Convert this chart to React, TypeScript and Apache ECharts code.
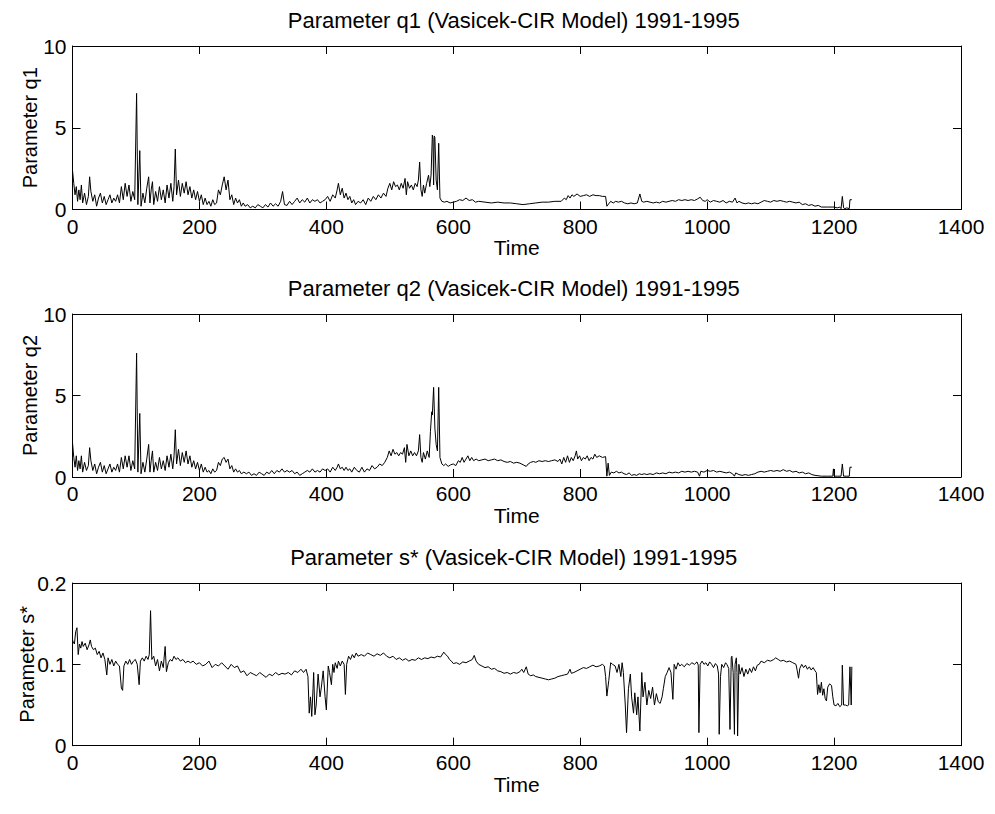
import React, { useEffect, useRef } from "react";
import * as echarts from "echarts";

const titles = [
  "Parameter q1 (Vasicek-CIR Model) 1991-1995",
  "Parameter q2 (Vasicek-CIR Model) 1991-1995",
  "Parameter s* (Vasicek-CIR Model) 1991-1995",
];
const yNames = ["Parameter q1", "Parameter q2", "Parameter s*"];
const xName = "Time";
const xRange = { min: 0, max: 1400, interval: 200 };
const yRanges = [
  { min: 0, max: 10, interval: 5 },
  { min: 0, max: 10, interval: 5 },
  { min: 0, max: 0.2, interval: 0.1 },
];

const q1Data: [number, number][] = [
  [0,2.4],[2,1.6],[4,0.9],[6,1.4],[8,0.5],[10,1.2],[12,0.6],[14,1.5],[16,0.4],[19,1.0],[22,0.3],[25,0.8],[27,2.0],[29,1.1],[32,0.5],[35,0.9],[38,0.2],[41,0.7],[44,1.0],[47,0.4],
  [50,0.8],[53,0.3],[56,0.6],[59,0.9],[62,0.4],[65,0.7],[68,0.5],[71,0.9],[74,0.4],[77,1.4],[80,0.6],[83,1.6],[86,0.8],[89,1.5],[92,0.5],[95,1.1],[98,0.6],[101,7.1],[103,0.3],[106,3.6],
  [108,0.2],[111,1.0],[114,0.4],[117,1.3],[120,2.0],[122,0.4],[124,1.2],[126,1.7],[128,0.3],[131,1.1],[134,0.5],[137,1.4],[140,0.6],[143,1.2],[146,0.4],[149,1.5],[152,0.7],[155,1.6],[158,0.5],[160,1.4],
  [162,3.7],[164,0.9],[167,1.8],[170,0.8],[173,1.6],[176,1.0],[179,1.7],[182,0.9],[185,1.4],[188,0.7],[191,1.2],[194,0.6],[197,1.1],[200,0.5],[203,0.9],[206,0.3],[209,0.7],[212,0.3],[215,0.5],[218,0.2],
  [221,0.6],[224,0.3],[227,0.4],[230,1.2],[233,0.9],[236,1.5],[239,2.0],[242,1.2],[245,1.8],[248,0.6],[251,0.9],[254,0.3],[257,0.7],[260,0.4],[263,0.6],[266,0.2],[269,0.4],[272,0.2],[276,0.3],[280,0.1],
  [284,0.2],[288,0.1],[292,0.3],[296,0.2],[300,0.1],[304,0.3],[308,0.15],[312,0.4],[316,0.2],[320,0.35],[324,0.2],[328,0.5],[331,1.1],[334,0.3],[338,0.25],[342,0.5],[346,0.3],[350,0.5],[354,0.7],[358,0.4],
  [362,0.6],[366,0.45],[370,0.7],[374,0.4],[378,0.6],[382,0.5],[386,0.6],[390,0.4],[394,0.5],[398,0.6],[402,0.8],[406,0.5],[410,0.9],[414,0.7],[417,1.2],[419,1.6],[422,0.9],[425,1.3],[428,0.7],[431,1.0],
  [434,0.6],[437,0.8],[440,0.4],[443,0.6],[446,0.3],[450,0.5],[454,0.4],[458,0.6],[462,0.3],[466,0.7],[470,0.5],[474,0.8],[478,0.6],[482,0.9],[486,0.7],[490,1.0],[494,0.8],[497,1.3],[500,1.6],[503,1.2],
  [506,1.7],[509,1.4],[512,1.5],[515,1.2],[518,1.6],[521,1.3],[524,1.9],[526,0.9],[528,1.7],[531,1.3],[534,1.5],[537,1.2],[540,1.6],[543,1.4],[545,1.8],[547,2.9],[549,1.2],[551,0.8],[553,1.5],[555,1.0],
  [558,1.6],[561,2.1],[563,1.4],[565,2.1],[567,4.55],[568,4.3],[569,1.5],[570,4.5],[571,4.4],[573,1.8],[575,1.2],[577,4.05],[579,0.7],[582,0.5],[586,0.45],[590,0.5],[595,0.4],[600,0.45],[605,0.5],[610,0.6],
  [615,0.55],[620,0.7],[625,0.55],[630,0.6],[635,0.45],[640,0.5],[650,0.45],[660,0.4],[670,0.45],[680,0.4],[690,0.4],[700,0.35],[710,0.3],[720,0.35],[730,0.4],[740,0.45],[750,0.45],[760,0.5],[770,0.5],[775,0.7],
  [778,0.6],[781,0.85],[784,0.7],[787,0.9],[790,0.8],[795,0.95],[800,0.8],[805,0.85],[810,0.9],[815,0.8],[820,0.9],[825,0.85],[830,0.85],[835,0.8],[840,0.8],[842,0.2],[845,0.35],[848,0.5],[852,0.4],[856,0.5],
  [860,0.45],[865,0.5],[870,0.4],[875,0.35],[880,0.4],[885,0.35],[890,0.4],[894,0.95],[897,0.5],[900,0.45],[905,0.5],[910,0.45],[915,0.4],[920,0.45],[925,0.4],[930,0.5],[935,0.45],[940,0.5],[945,0.55],[950,0.5],
  [955,0.6],[960,0.55],[965,0.6],[970,0.55],[975,0.6],[980,0.55],[985,0.65],[989,0.75],[993,0.55],[997,0.5],[1000,0.6],[1005,0.45],[1010,0.55],[1015,0.5],[1020,0.45],[1025,0.55],[1030,0.4],[1035,0.5],[1040,0.45],[1044,0.7],
  [1047,0.4],[1050,0.5],[1055,0.4],[1060,0.35],[1065,0.4],[1070,0.35],[1075,0.4],[1080,0.35],[1085,0.45],[1090,0.55],[1095,0.5],[1100,0.45],[1105,0.55],[1110,0.5],[1115,0.55],[1120,0.5],[1125,0.45],[1130,0.5],[1135,0.45],[1140,0.4],
  [1145,0.45],[1150,0.3],[1155,0.35],[1160,0.25],[1165,0.3],[1170,0.2],[1175,0.25],[1180,0.15],[1190,0.15],[1200,0.15],[1205,0.1],[1209,0.15],[1211,0.05],[1213,0.8],[1215,0.1],[1217,0.05],[1220,0.1],[1224,0.05],[1225,0.6],[1228,0.6],
];

const q2Data: [number, number][] = [
  [0,2.1],[2,1.2],[4,0.6],[6,1.3],[8,0.4],[10,1.0],[12,0.5],[14,1.3],[16,0.3],[19,0.9],[22,0.4],[25,0.7],[27,1.8],[29,1.0],[32,0.4],[35,0.8],[38,0.2],[41,0.6],[44,0.9],[47,0.3],
  [50,0.7],[53,0.2],[56,0.5],[59,0.8],[62,0.3],[65,0.6],[68,0.4],[71,0.8],[74,0.3],[77,1.2],[80,0.5],[83,1.3],[86,0.6],[89,1.3],[92,0.4],[95,1.0],[98,0.5],[101,7.6],[103,0.3],[106,3.9],
  [108,0.2],[111,0.9],[114,0.3],[117,1.1],[120,2.0],[122,0.3],[124,1.0],[126,1.6],[128,0.3],[131,0.9],[134,0.4],[137,1.2],[140,0.5],[143,1.0],[146,0.4],[149,1.3],[152,0.6],[155,1.4],[158,0.5],[160,1.3],
  [162,2.9],[164,0.8],[167,1.7],[170,0.7],[173,1.5],[176,0.9],[179,1.6],[182,0.8],[185,1.3],[188,0.6],[191,1.0],[194,0.5],[197,0.9],[200,0.4],[203,0.8],[206,0.3],[209,0.6],[212,0.3],[215,0.4],[218,0.2],
  [221,0.5],[224,0.3],[227,0.4],[230,0.9],[233,0.7],[236,1.1],[239,1.2],[242,0.9],[245,1.1],[248,0.5],[251,0.7],[254,0.3],[257,0.5],[260,0.3],[263,0.4],[266,0.2],[270,0.3],[274,0.2],[278,0.3],[282,0.1],
  [286,0.2],[290,0.1],[294,0.3],[298,0.2],[302,0.1],[306,0.3],[310,0.2],[314,0.4],[318,0.2],[322,0.4],[326,0.3],[330,0.5],[334,0.3],[338,0.4],[342,0.3],[346,0.4],[350,0.2],[354,0.3],[358,0.1],[362,0.2],
  [366,0.3],[370,0.4],[374,0.3],[378,0.5],[382,0.3],[386,0.4],[390,0.3],[394,0.5],[398,0.4],[402,0.5],[406,0.3],[410,0.6],[414,0.4],[417,0.6],[419,0.8],[422,0.5],[425,0.6],[428,0.4],[431,0.6],[434,0.4],
  [437,0.5],[440,0.3],[444,0.6],[448,0.4],[452,0.3],[456,0.6],[460,0.3],[464,0.5],[468,0.4],[472,0.7],[476,0.5],[480,0.6],[484,0.8],[488,0.7],[492,0.9],[496,1.2],[499,1.6],[502,1.3],[505,1.7],[508,1.4],
  [511,1.5],[514,1.3],[517,1.5],[520,1.4],[523,1.8],[525,0.9],[527,2.0],[530,1.3],[533,1.6],[536,1.3],[539,1.5],[542,1.3],[545,1.6],[547,2.6],[549,1.2],[551,0.9],[553,1.5],[556,1.1],[559,1.6],[562,1.2],
  [564,2.8],[566,4.0],[567,3.8],[569,5.5],[570,5.5],[571,3.0],[573,2.0],[575,1.6],[577,5.5],[578,5.5],[579,1.2],[582,0.8],[585,0.7],[588,0.8],[592,0.65],[596,0.75],[600,0.8],[604,0.7],[608,1.0],[611,0.9],
  [614,1.2],[617,0.9],[620,1.1],[623,1.3],[626,1.0],[629,1.2],[632,1.0],[636,1.1],[640,1.0],[645,1.05],[650,1.1],[655,1.0],[660,1.05],[665,1.1],[670,1.0],[675,1.05],[680,0.95],[685,0.9],[690,0.95],[695,0.85],
  [700,0.9],[705,0.85],[710,0.75],[715,0.65],[718,0.8],[722,0.9],[726,0.95],[730,0.9],[735,1.0],[740,0.95],[745,1.0],[750,0.95],[755,1.0],[760,1.05],[765,0.95],[768,1.1],[771,0.8],[774,1.2],[777,0.9],[780,1.3],
  [783,0.9],[786,1.2],[789,1.0],[792,1.3],[794,1.6],[796,1.1],[799,1.3],[802,1.0],[805,1.2],[808,1.1],[811,1.3],[814,1.0],[817,1.2],[820,1.1],[823,1.4],[826,1.2],[830,1.3],[835,1.2],[840,1.25],[842,0.05],
  [844,0.85],[846,0.1],[849,0.3],[853,0.25],[857,0.35],[861,0.25],[865,0.3],[869,0.2],[873,0.15],[877,0.25],[881,0.1],[885,0.15],[889,0.1],[893,0.2],[897,0.15],[901,0.2],[905,0.15],[910,0.2],[915,0.15],[920,0.25],
  [925,0.2],[930,0.25],[935,0.2],[940,0.3],[945,0.25],[950,0.3],[955,0.25],[960,0.35],[965,0.3],[970,0.35],[975,0.3],[980,0.35],[985,0.3],[988,0.05],[990,0.35],[995,0.3],[1000,0.4],[1005,0.35],[1010,0.4],[1015,0.3],
  [1020,0.35],[1025,0.3],[1030,0.25],[1035,0.3],[1040,0.2],[1043,0.05],[1045,0.25],[1050,0.15],[1055,0.1],[1060,0.15],[1065,0.1],[1070,0.15],[1075,0.2],[1080,0.3],[1085,0.35],[1090,0.3],[1095,0.35],[1100,0.4],[1105,0.35],[1110,0.4],
  [1115,0.35],[1120,0.45],[1125,0.35],[1130,0.4],[1135,0.3],[1140,0.35],[1145,0.25],[1150,0.3],[1155,0.2],[1160,0.25],[1165,0.15],[1170,0.1],[1180,0.05],[1190,0.05],[1198,0.05],[1199,0.5],[1200,0.05],[1205,0.05],[1211,0.05],[1213,0.8],
  [1215,0.05],[1220,0.05],[1224,0.05],[1225,0.6],[1228,0.6],
];

const sData: [number, number][] = [
  [0,0.13],[1,0.128],[3,0.125],[5,0.14],[7,0.145],[9,0.112],[11,0.125],[13,0.12],[15,0.128],[17,0.122],[20,0.126],[23,0.118],[26,0.124],[28,0.13],[30,0.122],[33,0.118],[36,0.12],[39,0.112],[42,0.116],[45,0.108],
  [48,0.114],[51,0.106],[54,0.087],[56,0.108],[59,0.1],[62,0.106],[65,0.098],[68,0.104],[71,0.1],[74,0.098],[77,0.071],[79,0.068],[81,0.098],[84,0.104],[87,0.1],[90,0.106],[93,0.1],[96,0.104],[99,0.106],[102,0.1],
  [105,0.075],[107,0.104],[110,0.108],[113,0.104],[116,0.11],[119,0.106],[121,0.112],[123,0.166],[125,0.106],[128,0.11],[131,0.098],[134,0.106],[137,0.092],[140,0.104],[143,0.096],[146,0.122],[148,0.091],[151,0.102],[154,0.106],[157,0.104],
  [160,0.11],[163,0.106],[166,0.108],[170,0.104],[174,0.106],[178,0.102],[182,0.104],[186,0.102],[190,0.104],[195,0.1],[200,0.102],[205,0.098],[210,0.1],[215,0.104],[220,0.096],[225,0.1],[230,0.098],[235,0.102],[240,0.098],[245,0.094],
  [250,0.1],[255,0.096],[260,0.098],[265,0.09],[270,0.092],[275,0.086],[280,0.09],[285,0.088],[290,0.086],[295,0.09],[300,0.087],[305,0.084],[310,0.088],[315,0.086],[320,0.09],[325,0.087],[330,0.089],[335,0.088],[340,0.09],[345,0.087],
  [350,0.092],[355,0.09],[360,0.094],[364,0.09],[368,0.094],[371,0.085],[373,0.04],[375,0.06],[377,0.036],[379,0.07],[380,0.09],[382,0.038],[384,0.05],[387,0.088],[390,0.06],[392,0.071],[395,0.092],[398,0.06],[400,0.044],[403,0.098],
  [405,0.09],[408,0.075],[410,0.1],[412,0.09],[414,0.102],[417,0.095],[419,0.104],[422,0.098],[425,0.104],[428,0.1],[430,0.063],[432,0.1],[435,0.11],[438,0.106],[441,0.112],[444,0.108],[447,0.114],[450,0.11],[455,0.112],[460,0.11],
  [465,0.114],[470,0.112],[475,0.11],[480,0.113],[485,0.111],[490,0.114],[495,0.11],[500,0.108],[505,0.11],[510,0.106],[515,0.108],[520,0.105],[525,0.107],[530,0.104],[535,0.106],[540,0.105],[545,0.108],[550,0.106],[555,0.108],[560,0.107],
  [565,0.109],[570,0.108],[575,0.11],[580,0.109],[585,0.115],[588,0.112],[591,0.11],[594,0.106],[597,0.104],[600,0.101],[605,0.102],[610,0.1],[615,0.103],[620,0.102],[625,0.104],[630,0.106],[633,0.111],[636,0.104],[640,0.1],[645,0.098],
  [650,0.096],[655,0.097],[660,0.094],[665,0.095],[670,0.092],[675,0.091],[680,0.089],[685,0.09],[690,0.088],[695,0.09],[700,0.089],[705,0.091],[708,0.094],[711,0.09],[715,0.097],[718,0.088],[722,0.086],[726,0.087],[730,0.085],[735,0.084],
  [740,0.083],[745,0.082],[750,0.081],[755,0.082],[760,0.083],[765,0.085],[770,0.086],[775,0.087],[780,0.088],[784,0.094],[786,0.089],[790,0.09],[795,0.092],[800,0.094],[805,0.096],[810,0.095],[815,0.097],[820,0.099],[825,0.097],[830,0.098],
  [835,0.1],[838,0.098],[840,0.085],[842,0.061],[845,0.08],[848,0.102],[851,0.1],[855,0.098],[858,0.09],[861,0.1],[864,0.085],[866,0.102],[868,0.09],[871,0.05],[873,0.016],[876,0.07],[879,0.088],[881,0.06],[884,0.04],[886,0.065],
  [889,0.038],[891,0.06],[894,0.018],[897,0.09],[899,0.06],[902,0.078],[905,0.05],[908,0.068],[911,0.058],[914,0.072],[917,0.05],[920,0.064],[923,0.054],[926,0.052],[929,0.06],[931,0.07],[934,0.085],[937,0.09],[940,0.096],[943,0.09],
  [946,0.057],[948,0.1],[951,0.094],[954,0.102],[957,0.098],[960,0.1],[964,0.097],[968,0.101],[972,0.099],[976,0.102],[980,0.1],[984,0.103],[986,0.099],[987,0.016],[989,0.1],[992,0.104],[995,0.1],[998,0.102],[1001,0.098],[1004,0.103],
  [1007,0.1],[1010,0.096],[1013,0.101],[1016,0.098],[1018,0.088],[1019,0.014],[1021,0.085],[1023,0.1],[1026,0.096],[1029,0.102],[1031,0.1],[1034,0.095],[1036,0.02],[1038,0.108],[1039,0.11],[1041,0.09],[1043,0.014],[1044,0.1],[1046,0.108],[1047,0.09],
  [1048,0.012],[1050,0.1],[1052,0.088],[1055,0.096],[1058,0.085],[1061,0.094],[1064,0.088],[1067,0.095],[1070,0.09],[1073,0.097],[1076,0.092],[1079,0.099],[1082,0.1],[1085,0.104],[1090,0.102],[1095,0.105],[1100,0.104],[1105,0.106],[1108,0.108],[1112,0.106],
  [1116,0.104],[1120,0.105],[1125,0.103],[1130,0.104],[1135,0.102],[1140,0.1],[1142,0.092],[1144,0.083],[1146,0.095],[1149,0.1],[1152,0.096],[1155,0.099],[1158,0.094],[1161,0.097],[1164,0.093],[1167,0.096],[1170,0.092],[1172,0.09],[1174,0.063],[1176,0.075],
  [1178,0.065],[1180,0.078],[1182,0.062],[1184,0.07],[1186,0.058],[1188,0.055],[1190,0.072],[1193,0.076],[1196,0.074],[1198,0.06],[1200,0.05],[1203,0.049],[1206,0.052],[1209,0.048],[1212,0.05],[1213,0.099],[1215,0.05],[1218,0.05],[1221,0.049],[1223,0.05],
  [1225,0.097],[1227,0.05],[1228,0.097],
];

const seriesData = [q1Data, q2Data, sData];

const FONT = "'Liberation Sans', Arial, Helvetica, sans-serif";
const GRID_LEFT = 72.5;
const GRID_WIDTH = 888.5;
const gridTops = [46, 314, 583];
const gridHeights = [163.5, 163, 162.7];
const yNameGaps = [33, 33, 36];

export default function App() {
  const ref = useRef<HTMLDivElement>(null);
  useEffect(() => {
    if (!ref.current) return;
    const chart = echarts.init(ref.current, null, { renderer: "svg" });
    const black = "#000";
    const tickStyle = { inside: true, length: 8, lineStyle: { color: black, width: 1 } };
    const lineStyle = { show: true, onZero: false, lineStyle: { color: black, width: 1 } };
    const fmt = (v: number) => String(v);
    const grids: any[] = [];
    const xAxes: any[] = [];
    const yAxes: any[] = [];
    const series: any[] = [];
    const graphics: any[] = [];
    for (let i = 0; i < 3; i++) {
      grids.push({ left: GRID_LEFT, top: gridTops[i], width: GRID_WIDTH, height: gridHeights[i], containLabel: false });
      xAxes.push({
        gridIndex: i, type: "value", position: "bottom", ...xRange,
        axisLine: lineStyle, axisTick: tickStyle, splitLine: { show: false },
        axisLabel: { color: black, fontSize: 21, fontFamily: FONT, margin: 6, formatter: fmt },
        name: xName, nameLocation: "middle", nameGap: 21,
        nameTextStyle: { color: black, fontSize: 21, fontFamily: FONT },
      });
      xAxes.push({
        gridIndex: i, type: "value", position: "top", ...xRange,
        axisLine: lineStyle, axisTick: tickStyle, splitLine: { show: false },
        axisLabel: { show: false },
      });
      yAxes.push({
        gridIndex: i, type: "value", position: "left", ...yRanges[i],
        axisLine: lineStyle, axisTick: tickStyle, splitLine: { show: false },
        axisLabel: { color: black, fontSize: 21, fontFamily: FONT, margin: 6, formatter: fmt },
        name: yNames[i], nameLocation: "middle", nameGap: yNameGaps[i], nameMoveOverlap: false,
        nameTextStyle: { color: black, fontSize: 20, fontFamily: FONT },
      });
      yAxes.push({
        gridIndex: i, type: "value", position: "right", ...yRanges[i],
        axisLine: lineStyle, axisTick: tickStyle, splitLine: { show: false },
        axisLabel: { show: false },
      });
      series.push({
        type: "line", xAxisIndex: i * 2, yAxisIndex: i * 2,
        data: seriesData[i], showSymbol: false, symbol: "none",
        lineStyle: { color: black, width: 1 }, clip: true,
      });
      graphics.push({
        type: "text", x: GRID_LEFT + GRID_WIDTH / 2 - 3, y: gridTops[i] - 26,
        style: { text: titles[i], fill: black, font: `22px ${FONT}`, textAlign: "center", textVerticalAlign: "middle" },
      });
    }
    chart.setOption({
      animation: false,
      backgroundColor: "#fff",
      grid: grids,
      xAxis: xAxes,
      yAxis: yAxes,
      series,
      graphic: graphics,
    });
    return () => chart.dispose();
  }, []);
  return <div ref={ref} style={{ position: "absolute", left: 0, top: 0, width: 995, height: 814 }} />;
}
